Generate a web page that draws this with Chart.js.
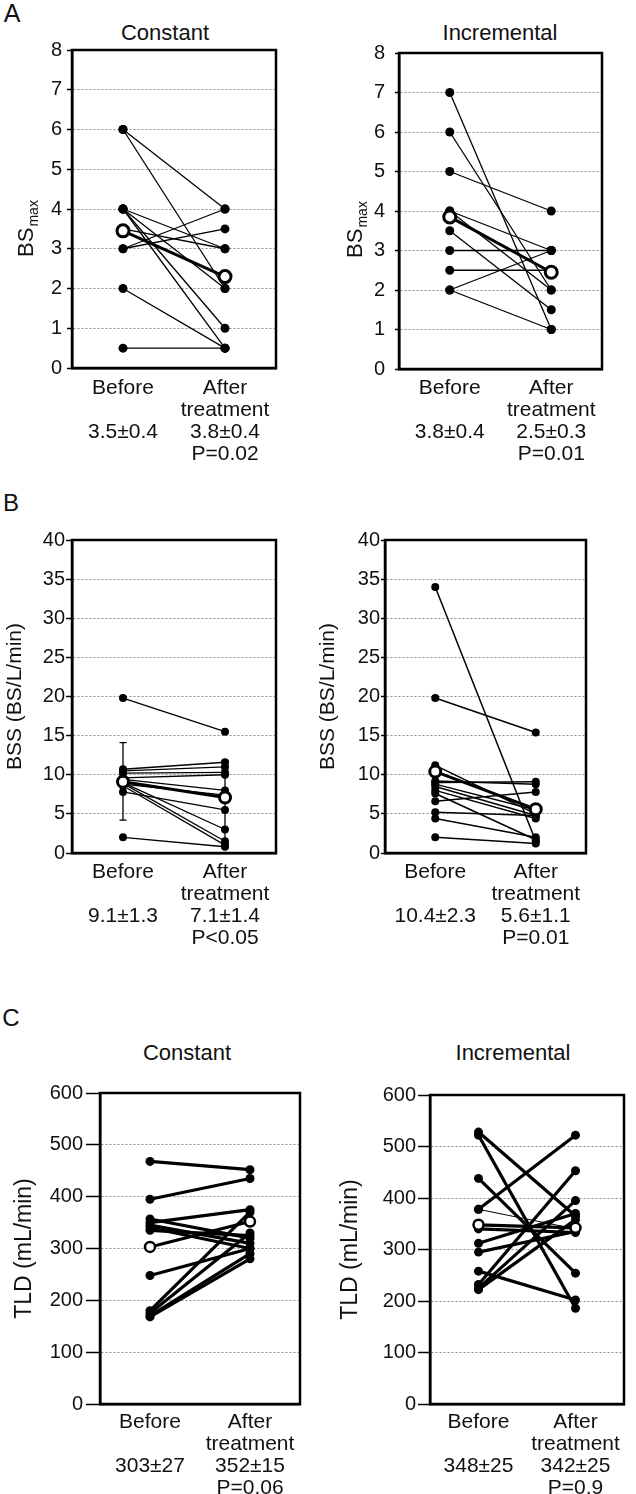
<!DOCTYPE html>
<html>
<head>
<meta charset="utf-8">
<script src="https://cdn.jsdelivr.net/npm/chart.js@4.4.1/dist/chart.umd.min.js"></script>
<style>
  body { margin: 0; background: #fff; width: 636px; height: 1494px; position: relative; overflow: hidden;
         font-family: 'Liberation Sans', Arial, Helvetica, sans-serif; color: #111; }
  canvas { position: absolute; }
  .lbl { position: absolute; white-space: nowrap; transform: translate(-50%, -50%); line-height: 1; }
</style>
</head>
<body>
<div class="lbl" style="left:12px;top:13px;font-size:25px">A</div>
<div class="lbl" style="left:11px;top:503px;font-size:24px">B</div>
<div class="lbl" style="left:11px;top:1018px;font-size:24px">C</div>
<div class="lbl" style="left:165px;top:33px;font-size:22px">Constant</div>
<div class="lbl" style="left:500px;top:33px;font-size:22px">Incremental</div>
<div class="lbl" style="left:187px;top:1053px;font-size:22px">Constant</div>
<div class="lbl" style="left:513px;top:1053px;font-size:22px">Incremental</div>

<canvas id="aL" width="300" height="470" style="left:0;top:0"></canvas>
<canvas id="aR" width="320" height="470" style="left:316px;top:0"></canvas>
<canvas id="bL" width="300" height="470" style="left:0;top:480px"></canvas>
<canvas id="bR" width="320" height="470" style="left:316px;top:480px"></canvas>
<canvas id="cL" width="316" height="494" style="left:0;top:1000px"></canvas>
<canvas id="cR" width="320" height="494" style="left:316px;top:1000px"></canvas>

<script>
// x categories (second line of each label)
const catNames = [['Before', ''], ['After', 'treatment']];

// A: BSmax
const aTicks = [0, 1, 2, 3, 4, 5, 6, 7, 8];
const aConstBefore = [6, 6, 4, 4, 4, 4, 3.5, 3, 3, 2, 0.5];
const aConstAfter  = [4, 2, 3, 1, 0.5, 2, 3, 4, 3.5, 0.5, 0.5];
const aConstMean   = [3.45, 2.3];
const aConstStats  = ['3.5±0.4', '3.8±0.4', 'P=0.02'];
const aIncrBefore  = [7, 6, 5, 4, 4, 3.5, 3, 2.5, 2, 2];
const aIncrAfter   = [1, 2, 4, 3, 2, 1.5, 3, 2.5, 3, 1];
const aIncrMean    = [3.85, 2.45];
const aIncrStats   = ['3.8±0.4', '2.5±0.3', 'P=0.01'];

// B: BSS
const bTicks = [0, 5, 10, 15, 20, 25, 30, 35, 40];
const bConstBefore = [19.8, 10.7, 10.5, 10.2, 9.6, 9.4, 8.8, 7.8, 9.0, 8.9, 8.6, 2.0];
const bConstAfter  = [15.5, 11.6, 11.0, 10.3, 10.0, 8.0, 7.4, 5.5, 3.0, 1.5, 1.0, 0.8];
const bConstMean   = [9.1, 7.1];
const bConstErr    = [[0, 4.2, 14.1], [1, 1.2, 11.8]];   // [category, low, high]
const bConstStats  = ['9.1±1.3', '7.1±1.4', 'P<0.05'];
const bIncrBefore  = [34, 19.8, 11.2, 9.0, 9.2, 8.8, 8.5, 8.0, 7.6, 6.6, 5.2, 4.4, 2.0];
const bIncrAfter   = [1.5, 15.4, 5.0, 9.1, 8.8, 5.5, 4.8, 4.4, 1.7, 7.8, 4.8, 2.0, 1.2];
const bIncrMean    = [10.4, 5.6];
const bIncrStats   = ['10.4±2.3', '5.6±1.1', 'P=0.01'];

// C: TLD
const cTicks = [0, 100, 200, 300, 400, 500, 600];
const cConstBefore = [468, 395, 357, 350, 345, 340, 335, 248, 180, 175, 170, 168];
const cConstAfter  = [452, 435, 320, 375, 310, 300, 325, 300, 370, 330, 290, 280];
const cConstMean   = [303, 352];
const cConstStats  = ['303±27', '352±15', 'P=0.06'];
const cIncrBefore  = [528, 522, 438, 378, 378, 340, 312, 295, 258, 232, 225, 222];
const cIncrAfter   = [365, 186, 254, 522, 340, 333, 370, 335, 202, 453, 395, 358];
const cIncrMean    = [348, 342];
const cIncrStats   = ['348±25', '342±25', 'P=0.9'];

const FONT = "'Liberation Sans', Arial, Helvetica, sans-serif";

// box around the plot area
const frame = {
  id: 'frame',
  afterDatasetsDraw(chart) {
    const {ctx, chartArea: a} = chart;
    ctx.save();
    ctx.lineWidth = 2.5;
    ctx.strokeStyle = '#000';
    ctx.strokeRect(a.left, a.top, a.right - a.left, a.bottom - a.top);
    ctx.restore();
  }
};

// y title with subscript (BSmax)
const subTitle = {
  id: 'subTitle',
  afterDraw(chart, args, opts) {
    if (!opts.main) return;
    const ctx = chart.ctx;
    ctx.save();
    ctx.translate(opts.x, opts.y);
    ctx.rotate(-Math.PI / 2);
    ctx.fillStyle = '#111';
    ctx.font = '22px ' + FONT;
    const w1 = ctx.measureText(opts.main).width;
    ctx.font = '14px ' + FONT;
    const w2 = ctx.measureText(opts.sub).width;
    const x0 = -(w1 + w2) / 2;
    ctx.font = '22px ' + FONT;
    ctx.fillText(opts.main, x0, 7);
    ctx.font = '14px ' + FONT;
    ctx.fillText(opts.sub, x0 + w1 + 1, 12);
    ctx.restore();
  }
};

function makePanel(id, p) {
  const datasets = [];
  datasets.push({
    data: p.mean, borderColor: '#000', borderWidth: p.meanWidth,
    pointRadius: p.meanR, pointBorderWidth: p.meanBorder,
    pointBackgroundColor: '#fff', pointBorderColor: '#000'
  });
  (p.errors || []).forEach(function(e) {
    datasets.push({
      parsing: false,
      data: [{x: e[0], y: e[1]}, {x: e[0], y: e[2]}],
      borderColor: '#000', borderWidth: 1.3,
      pointStyle: 'line', pointRadius: 3.5, pointBorderWidth: 1.3, pointBorderColor: '#000'
    });
  });
  p.before.forEach(function(b, i) {
    datasets.push({
      data: [b, p.after[i]],
      borderColor: '#000',
      borderWidth: (p.thin || []).indexOf(i) >= 0 ? 1 : p.lineWidth,
      pointRadius: p.dotR, pointBorderWidth: 0, pointBackgroundColor: '#000'
    });
  });

  const labels = [
    [catNames[0][0], catNames[0][1], p.stats[0]],
    [catNames[1][0], catNames[1][1], p.stats[1], p.stats[2]]
  ];

  new Chart(document.getElementById(id), {
    type: 'line',
    data: {labels: labels, datasets: datasets},
    plugins: [frame, subTitle],
    options: {
      responsive: false,
      animation: false,
      devicePixelRatio: 1,
      events: [],
      layout: {padding: {top: p.padTop, right: p.padRight, left: 0, bottom: 0}},
      plugins: {
        legend: {display: false},
        tooltip: {enabled: false},
        subTitle: p.subTitle || {}
      },
      scales: {
        x: {
          type: 'category',
          offset: true,
          grid: {display: false, drawTicks: false},
          border: {color: '#000', width: 2.5},
          ticks: {
            color: '#111', font: {family: FONT, size: 21, lineHeight: 1.05},
            padding: p.xPad, maxRotation: 0, autoSkip: false
          },
          afterFit: function(s) { s.height = p.xH; }
        },
        y: {
          min: p.ticks[0],
          max: p.ticks[p.ticks.length - 1],
          ticks: {
            stepSize: p.ticks[1] - p.ticks[0],
            color: '#111', font: {family: FONT, size: 20}, padding: p.tickPad
          },
          grid: {
            color: '#8c8c8c', lineWidth: 1, tickLength: p.tickLen,
            tickColor: '#000', tickWidth: 1.5, tickBorderDash: []
          },
          border: {color: '#000', width: 2.5, dash: [2, 2]},
          title: p.yTitle ? {
            display: true, text: p.yTitle, color: '#111',
            font: {family: FONT, size: p.yTitleSize, lineHeight: 1.2},
            padding: {top: p.yTitlePad, bottom: 0}
          } : {display: false},
          afterFit: function(s) { s.width = p.yW; }
        }
      }
    }
  });
}

makePanel('aL', {
  before: aConstBefore, after: aConstAfter, mean: aConstMean, stats: aConstStats, ticks: aTicks,
  lineWidth: 1.3, dotR: 4.5, meanWidth: 3, meanR: 6, meanBorder: 3,
  padTop: 50, padRight: 24, yW: 72, xH: 102, xPad: 9, tickLen: 5, tickPad: 5,
  subTitle: {main: 'BS', sub: 'max', x: 26, y: 229}
});
makePanel('aR', {
  before: aIncrBefore, after: aIncrAfter, mean: aIncrMean, stats: aIncrStats, ticks: aTicks,
  lineWidth: 1.3, dotR: 4.5, meanWidth: 3, meanR: 6, meanBorder: 3,
  padTop: 53, padRight: 34, yW: 83, xH: 101, xPad: 8, tickLen: 4, tickPad: 10,
  subTitle: {main: 'BS', sub: 'max', x: 39, y: 230}
});
makePanel('bL', {
  before: bConstBefore, after: bConstAfter, mean: bConstMean, stats: bConstStats, ticks: bTicks,
  errors: bConstErr,
  lineWidth: 1.3, dotR: 4, meanWidth: 3, meanR: 5.5, meanBorder: 3,
  padTop: 60, padRight: 24, yW: 72, xH: 97, xPad: 8, tickLen: 6, tickPad: 1,
  yTitle: 'BSS (BS/L/min)', yTitleSize: 21, yTitlePad: 3
});
makePanel('bR', {
  before: bIncrBefore, after: bIncrAfter, mean: bIncrMean, stats: bIncrStats, ticks: bTicks,
  lineWidth: 1.5, dotR: 4, meanWidth: 3, meanR: 5.5, meanBorder: 3,
  padTop: 60, padRight: 50, yW: 69, xH: 97, xPad: 8, tickLen: 4, tickPad: 1,
  yTitle: 'BSS (BS/L/min)', yTitleSize: 21, yTitlePad: 0
});
makePanel('cL', {
  before: cConstBefore, after: cConstAfter, mean: cConstMean, stats: cConstStats, ticks: cTicks,
  lineWidth: 3.2, dotR: 4.5, meanWidth: 3.2, meanR: 5, meanBorder: 2.5,
  padTop: 93, padRight: 16, yW: 100, xH: 90, xPad: 7, tickLen: 14, tickPad: 3,
  yTitle: 'TLD (mL/min)', yTitleSize: 23, yTitlePad: 11
});
makePanel('cR', {
  before: cIncrBefore, after: cIncrAfter, mean: cIncrMean, stats: cIncrStats, ticks: cTicks,
  thin: [4],
  lineWidth: 3.2, dotR: 4.5, meanWidth: 3.2, meanR: 5, meanBorder: 2.5,
  padTop: 95, padRight: 12, yW: 114, xH: 90, xPad: 7, tickLen: 12, tickPad: 2,
  yTitle: 'TLD (mL/min)', yTitleSize: 23, yTitlePad: 21
});
</script>
</body>
</html>
